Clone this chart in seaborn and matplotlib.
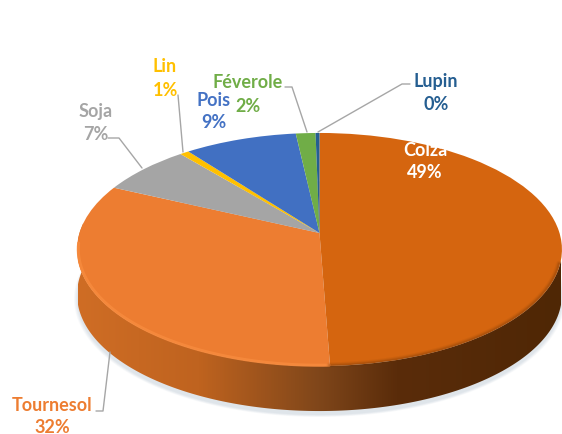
import numpy as np
import matplotlib
matplotlib.use('Agg')
import matplotlib.pyplot as plt
import seaborn as sns
from matplotlib.colors import LinearSegmentedColormap
from matplotlib.patches import Polygon
from matplotlib.transforms import Transform

cultures = ['Colza', 'Tournesol', 'Soja', 'Lin', 'Pois', 'Féverole', 'Lupin']
parts = [49.4, 32.5, 7.0, 0.7, 8.6, 1.5, 0.3]
percents = [49, 32, 7, 1, 9, 2, 0]
slice_colors = ['#d5650f', '#ed7d31', '#a5a5a5', '#ffc000', '#4170c2', '#70ad47', '#255e91']
text_colors = ['white', '#ed7d31', '#a5a5a5', '#ffc000', '#4472c4', '#70ad47', '#255e91']

W, H = 562, 435
APEX_X, APEX_Y = 319.5, 234
TILT = 0.1416
SCALE_X, SCALE_Y = 240, 114.2
DEPTH = 45

# name x, name y, percent x, percent y
label_pos = [(425, 151, 425, 173), (52, 406, 52, 428), (96, 111, 96, 135), (165, 66, 165, 90),
             (214, 101, 214, 123), (248, 82, 248, 107), (436, 81, 436, 104)]
leaders = [None,
           [(96, 412), (103, 412), (110, 353)],
           [(108, 139), (119, 139), (142, 169)],
           [(178, 96), (183, 153)],
           None,
           [(285, 88), (292, 88), (307, 133)],
           [(410, 85), (402, 85), (318, 133)]]


class Tilt(Transform):
    # unit circle -> picture pixels, with perspective so the centre sits high
    input_dims = output_dims = 2

    def transform_non_affine(self, values):
        values = np.asarray(values, dtype=float)
        d = 1 + TILT * values[:, 1]
        return np.column_stack([APEX_X + SCALE_X * values[:, 0] / d,
                                APEX_Y - SCALE_Y * values[:, 1] / d])


def rim(start, end, r=1.0, drop=0):
    t = np.radians(np.linspace(start, end, 300))
    pts = Tilt().transform_non_affine(np.column_stack([r * np.cos(t), r * np.sin(t)]))
    pts[:, 1] += drop
    return pts


sns.set_theme(style='white')
plt.rcParams['font.family'] = ['Lato', 'DejaVu Sans']

fig = plt.figure(figsize=(W / 100, H / 100), dpi=100)
ax = fig.add_axes([0, 0, 1, 1])

# soft shadow under the disc
for grow, alpha in zip([1.012, 1.008, 1.004, 1.0], [0.18, 0.22, 0.3, 0.4]):
    ax.fill(*rim(0, 360, grow, DEPTH + 4).T, color='#d5dde4', alpha=alpha, lw=0, zorder=1)

# side of the disc, shaded from left to right
side = np.vstack([rim(175, 352, 1, DEPTH), rim(352, 175, 1, 0)])
side_cmap = LinearSegmentedColormap.from_list(
    'side', [(0, '#cf6d25'), (0.25, '#bf631f'), (0.5, '#7f461a'), (0.66, '#5a2c0a'), (1, '#4f2705')])
img = ax.imshow(np.linspace(0, 1, 256)[None, :], cmap=side_cmap, extent=(78, 561, 430, 200),
                aspect='auto', zorder=2)
img.set_clip_path(Polygon(side, transform=ax.transData))

# top of the disc
wedges, _ = ax.pie(parts, colors=sns.color_palette(slice_colors), startangle=90, counterclock=False,
                   wedgeprops={'linewidth': 0, 'antialiased': True})
for w in wedges:
    w.set_transform(Tilt() + ax.transData)
    w.set_zorder(3)

# bevel along the front edge
ax.plot(*rim(185, 272, 0.995).T, color='#f68a3d', lw=2.2, alpha=0.9, zorder=4)
for lw, alpha in zip([4, 2.5, 1.2], [0.08, 0.12, 0.2]):
    ax.plot(*rim(272, 345, 0.995).T, color='#6b3408', lw=lw, alpha=alpha, zorder=4)

for path in leaders:
    if path is not None:
        ax.plot(*zip(*path), color='#a6a6a6', lw=1, zorder=5)

for name, pct, col, (nx, ny, px, py) in zip(cultures, percents, text_colors, label_pos):
    ax.text(nx, ny, name, color=col, fontsize=13, fontweight='bold', ha='center', va='center', zorder=6)
    ax.text(px, py, f'{pct}%', color=col, fontsize=13, fontweight='bold', ha='center', va='center', zorder=6)

ax.set_aspect('auto')
ax.set_xlim(0, W)
ax.set_ylim(H, 0)
ax.axis('off')
fig.savefig('out.png', dpi=100, facecolor='white')
